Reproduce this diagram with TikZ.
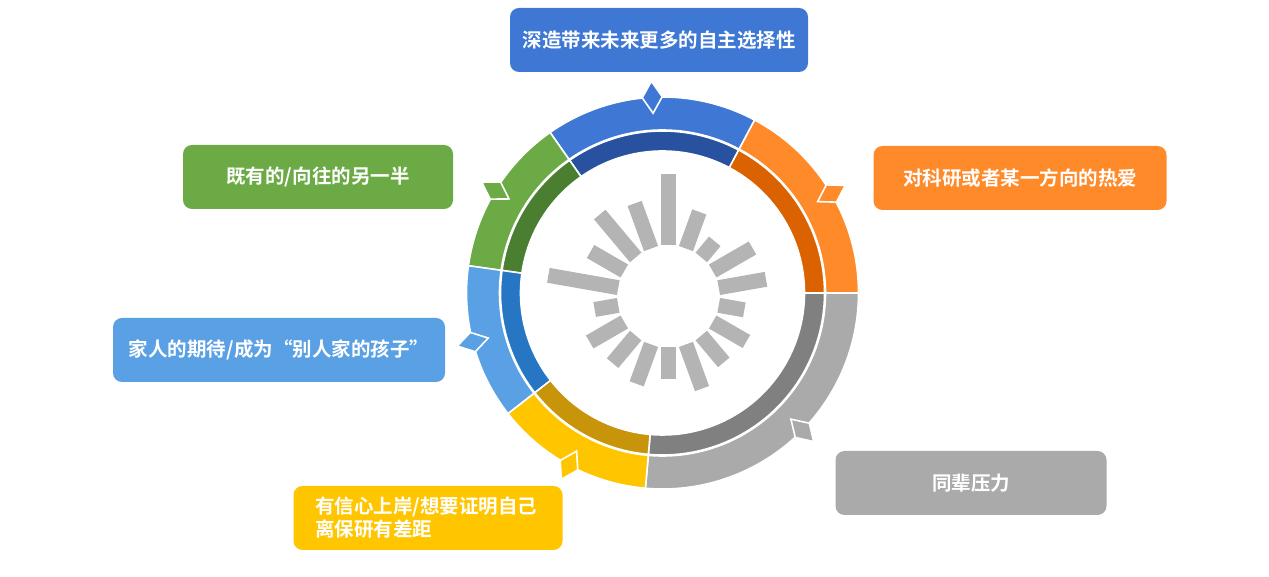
\documentclass[tikz,border=0pt]{standalone}
\usepackage{fontspec}
\newfontfamily\cjk{Noto Sans CJK SC}[BoldFont={Noto Sans CJK SC Bold}]
\usepackage{tikz}
\usetikzlibrary{calc}

\definecolor{blueout}{RGB}{62,120,212}
\definecolor{bluein}{RGB}{40,82,160}
\definecolor{orangeout}{RGB}{255,138,42}
\definecolor{orangein}{RGB}{218,98,0}
\definecolor{greenout}{RGB}{108,170,70}
\definecolor{greenin}{RGB}{74,126,48}
\definecolor{skyout}{RGB}{90,160,228}
\definecolor{skyin}{RGB}{38,118,196}
\definecolor{yellowout}{RGB}{255,198,0}
\definecolor{yellowin}{RGB}{200,148,10}
\definecolor{grayout}{RGB}{170,170,170}
\definecolor{grayin}{RGB}{128,128,128}
\definecolor{bargray}{RGB}{180,180,180}

% colour, from, to, inner radius, outer radius
\newcommand{\ringpart}[5]{%
  \fill[#1, draw=white, line width=1.6pt] (#2:#5) arc[start angle=#2, end angle=#3, radius=#5]
    -- (#3:#4) arc[start angle=#3, end angle=#2, radius=#4] -- cycle;}
% colour, angle
\newcommand{\ringtab}[2]{%
  \fill[#1, draw=white, line width=1.6pt, shift={(#2:196)}, rotate=#2]
    (-16,0) -- (0,10) -- (16,0) -- (0,-10) -- cycle;}

\tikzset{
  card/.style={rounded corners=9pt, text=white, minimum height=64pt, inner sep=0pt,
    font=\cjk\bfseries\fontsize{19.5}{23}\selectfont},
  bar/.style={draw=bargray, line width=15pt}
}

\begin{document}
\begin{tikzpicture}[x=1pt, y=1pt]
    \useasboundingbox (0,0) rectangle (1269,577);
    \begin{scope}[shift={(662.5,284)}]
        \ringpart{grayout}{-95}{0}{163}{196}
        \ringpart{orangeout}{0}{62}{163}{196}
        \ringpart{blueout}{62}{125}{163}{196}
        \ringpart{greenout}{125}{172}{163}{196}
        \ringpart{skyout}{172}{218}{163}{196}
        \ringpart{yellowout}{218}{265}{163}{196}
        \ringpart{grayin}{-95}{0}{142}{162}
        \ringpart{orangein}{0}{62}{142}{162}
        \ringpart{bluein}{62}{125}{142}{162}
        \ringpart{greenin}{125}{172}{142}{162}
        \ringpart{skyin}{172}{218}{142}{162}
        \ringpart{yellowin}{218}{265}{142}{162}
        \ringtab{blueout}{93}
        \ringtab{orangeout}{30.5}
        \ringtab{greenout}{148.5}
        \ringtab{skyout}{194.5}
        \ringtab{yellowout}{241.5}
        \ringtab{grayout}{315.5}
    \end{scope}
    % bars round the hub
    \begin{scope}[shift={(668.5,280.5)}]
        \foreach \a/\l in {90/122, 70/90, 50/72, 30/97, 10/99, -10/77, -30/90, -50/86, -70/98,
                           -90/83, -110/93, -130/87, -150/91, -170/75, 170/122, 150/90, 130/107, 110/99}
            \draw[bar] (\a:51) -- (\a:\l);
    \end{scope}

    \node[card, fill=blueout, minimum width=298pt] (choice) at (659,537) {深造带来未来更多的自主选择性};
    \node[card, fill=orangeout, minimum width=293pt] (passion) at (1020,399) {对科研或者某一方向的热爱};
    \node[card, fill=greenout, minimum width=270pt] (partner) at (318,400) {既有的/向往的另一半};
    \node[card, fill=skyout, minimum width=332pt] (family) at (279,227) {家人的期待/成为“别人家的孩子”};
    \node[card, fill=yellowout, minimum width=269pt, text width=226pt, align=left] (proof) at (428,59)
        {有信心上岸/想要证明自己\\离保研有差距};
    \node[card, fill=grayout, minimum width=271pt] (peers) at (971,94) {同辈压力};
\end{tikzpicture}
\end{document}
